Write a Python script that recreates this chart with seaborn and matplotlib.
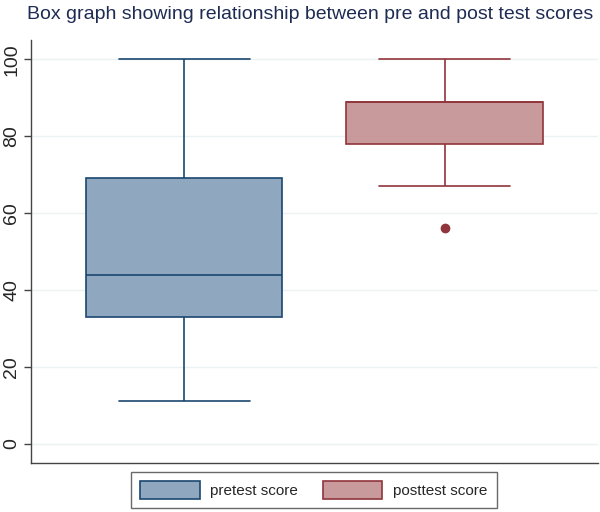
import pandas as pd
import matplotlib
matplotlib.use("Agg")
import matplotlib.pyplot as plt
from matplotlib.patches import Patch
import seaborn as sns

# Scores chosen so the box stats match the picture
# pretest: whiskers 11-100, Q1 33, median 44, Q3 69
pretest = [11, 20, 33, 40, 44, 55, 69, 85, 100]
# posttest: whiskers 67-100, Q1 78, median 89, Q3 89, outlier 56
posttest = [56, 67, 78, 80, 89, 89, 89, 95, 100]
labels = ["pretest score", "posttest score"]
fills = ["#90a8bf", "#c99a9c"]
edges = ["#1a476f", "#90353b"]

df = pd.DataFrame({
    "test": [labels[0]] * len(pretest) + [labels[1]] * len(posttest),
    "score": pretest + posttest,
})

sns.set_style("white")
plt.rcParams["font.family"] = ["Liberation Sans", "DejaVu Sans"]

fig = plt.figure(figsize=(6, 5.12), dpi=100)
ax = fig.add_axes([0.052, 0.0957, 0.945, 0.826])

for lab, fc, ec in zip(labels, fills, edges):
    sns.boxplot(data=df[df["test"] == lab], x="test", y="score", order=labels,
                color=fc, linecolor=ec, linewidth=1.2, width=0.754,
                fliersize=6, capwidths=0.505,
                flierprops=dict(marker="o", markerfacecolor=ec, markeredgecolor=ec),
                boxprops=dict(facecolor=fc, edgecolor=ec),
                ax=ax, zorder=3)

ax.set_ylim(-5, 105)
ax.set_xlim(-0.588, 1.59)
ax.set_yticks([0, 20, 40, 60, 80, 100])
ax.yaxis.grid(True, color="#eaf2f3", linewidth=1, zorder=0)
ax.set_axisbelow(True)
ax.set_xlabel("")
ax.set_ylabel("")
ax.set_xticks([])
for lbl in ax.get_yticklabels():
    lbl.set_rotation(90)
    lbl.set_va("center")
ax.tick_params(axis="y", labelsize=14, length=5, width=1, color="#444444",
               left=True, pad=3)
for s in ["top", "right"]:
    ax.spines[s].set_visible(False)
for s in ["left", "bottom"]:
    ax.spines[s].set_color("#444444")
    ax.spines[s].set_linewidth(1)

fig.text(0.045, 0.988, "Box graph showing relationship between pre and post test scores",
         fontsize=14, color="#1e2c53", va="top", ha="left")

handles = [Patch(facecolor=f, edgecolor=e, linewidth=1.2) for f, e in zip(fills, edges)]
fig.legend(handles, labels, loc="lower center", bbox_to_anchor=(0.523, 0.008), ncol=2,
           frameon=True, fancybox=False, edgecolor="#444444", fontsize=11,
           handlelength=3.9, handleheight=1.37, columnspacing=1.6, handletextpad=0.7,
           borderpad=0.6, borderaxespad=0)

fig.savefig("out.png", dpi=100, facecolor="white")
